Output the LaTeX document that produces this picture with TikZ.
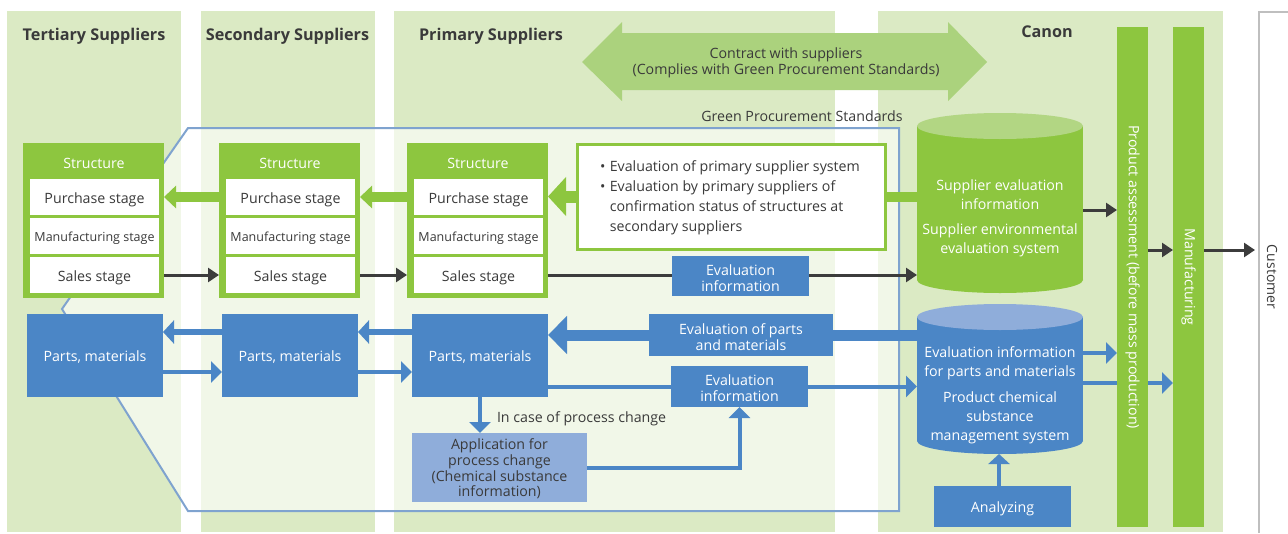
\documentclass[tikz,border=0pt]{standalone}
\usepackage{fontspec}
\setmainfont{Open Sans}
\usetikzlibrary{arrows.meta,calc}
\definecolor{bggreen}{HTML}{DBEAC4}
\definecolor{sgreen}{HTML}{8DC63F}
\definecolor{lgreen}{HTML}{ABD27D}
\definecolor{tgreen}{HTML}{B2D683}
\definecolor{sblue}{HTML}{4B86C6}
\definecolor{lblue}{HTML}{8FADDA}
\definecolor{pblue}{HTML}{7FA3CF}
\definecolor{dgray}{HTML}{3C3C3C}
\definecolor{tgray}{HTML}{3A3A3A}
\definecolor{cgray}{HTML}{BFBFBF}
\begin{document}
\begin{tikzpicture}[x=1pt,y=-1pt,
  every node/.style={inner sep=0pt,outer sep=0pt},
  body/.style={font=\fontsize{14.2}{16}\selectfont},
  coltitle/.style={font=\fontsize{16.2}{18}\selectfont\bfseries,text=tgray},
  structbox/.style={fill=sgreen,minimum width=141pt,minimum height=155pt},
  structlabel/.style={body,text=white},
  stagebox/.style={fill=white,minimum width=129pt,minimum height=36pt},
  stagetext/.style={body,text=tgray,yshift=-3pt},
  mfgtext/.style={text=tgray,yshift=-2.5pt,font=\fontsize{12.5}{14}\selectfont},
  partsbox/.style={fill=sblue,minimum width=136pt,minimum height=83pt},
  bluebox/.style={fill=sblue},
  boxtext/.style={body,text=white,align=center,yshift=-2pt},
  cyltext/.style={text=white,align=center,font=\fontsize{14.2}{19}\selectfont},
  bartext/.style={body,text=white,rotate=-90},
  plain/.style={body,text=tgray},
  darrow/.style={draw=dgray,line width=3pt,-{Triangle[length=11pt,width=14pt]}},
  garrow/.style={draw=sgreen,line width=10pt,-{Triangle[length=12pt,width=22pt]}},
  bigg/.style={draw=sgreen,line width=12pt,-{Triangle[length=18pt,width=38pt]}},
  barrow/.style={draw=sblue,line width=4pt,-{Triangle[length=11pt,width=21pt]}},
  barrowl/.style={draw=sblue,line width=6pt,-{Triangle[length=11pt,width=23pt]}},
  bigb/.style={draw=sblue,line width=11pt,-{Triangle[length=19pt,width=37pt]}},
  greenbar/.style={fill=sgreen,minimum width=31pt,minimum height=500pt}
]
\useasboundingbox (0,0) rectangle (1288,533);
% column backgrounds
\fill[bggreen] (7,11) rectangle (181,532);
\fill[bggreen] (201,11) rectangle (375,532);
\fill[bggreen] (394,11) rectangle (835,532);
\fill[bggreen] (878,11) rectangle (1223,532);
% customer frame
\draw[cgray,line width=1.2pt] (1259,533) -- (1259,12) -- (1288,12);
% green procurement standards region
\filldraw[fill=white,fill opacity=0.62,draw=pblue,line width=2pt]
  (188,128) -- (899,128) -- (899,511) -- (188,511) -- (62,309) -- cycle;
\node[plain] (gps) at (802,116) {Green Procurement Standards};

% titles
\node[coltitle] (tt) at (94,36.5) {Tertiary Suppliers};
\node[coltitle] (st) at (287.5,36.5) {Secondary Suppliers};
\node[coltitle] (pt) at (491,36.5) {Primary Suppliers};
\node[coltitle] (ct) at (1047,31.5) {Canon};

% contract double arrow
\fill[lgreen] (582,62) -- (622,22) -- (622,33) -- (948,33) -- (948,22) -- (987,62)
  -- (948,101) -- (948,90) -- (622,90) -- (622,101) -- cycle;
\node[plain,align=center] (contract) at (786,62.5)
  {Contract with suppliers\\(Complies with Green Procurement Standards)};

% structure boxes
\foreach \n/\cx in {t/93.5,s/289.5,p/477.5}{
  \node[structbox] (\n-struct) at (\cx,220.5) {};
  \node[structlabel] (\n-slabel) at (\cx+0.5,163.5) {Structure};
  \node[stagebox] (\n-purch) at (\cx+1,197) {};
  \node[stagetext] at (\n-purch) {Purchase stage};
  \node[stagebox] (\n-mfg) at (\cx+1,236) {};
  \node[mfgtext] at (\n-mfg) {Manufacturing stage};
  \node[stagebox] (\n-sales) at (\cx+1,275) {};
  \node[stagetext] at (\n-sales) {Sales stage};
}
% parts boxes
\node[partsbox] (t-parts) at (95,355.5) {};
\node[partsbox] (s-parts) at (290,355.5) {};
\node[partsbox] (p-parts) at (480,355.5) {};
\foreach \n in {t,s,p}{\node[boxtext] at (\n-parts) {Parts, materials};}

% cylinders anchors
\node[minimum width=166pt,minimum height=180pt] (gcyl) at (1000,203) {};
\node[minimum width=166pt,minimum height=150pt] (bcyl) at (1000,379) {};

% bars
\node[greenbar] (prodbar) at (1132.5,277) {};
\node[greenbar] (manbar) at (1188.5,277) {};

% evaluation text box
\node[draw=sgreen,line width=3pt,fill=white,minimum width=308pt,minimum height=105pt] (evalbox) at (731,196.5) {};
\node[anchor=west,text=tgray,font=\fontsize{14.2}{20}\selectfont] (evaltext) at (600,197)
  {\begin{tabular}{@{}l@{\hspace{4.5pt}}l@{}}
  • & Evaluation of primary supplier system\\
  • & Evaluation by primary suppliers of\\
    & confirmation status of structures at\\
    & secondary suppliers
  \end{tabular}};

% green arrows
\draw[garrow] (s-struct.west |- s-purch) -- (t-struct.east |- t-purch);
\draw[garrow] (p-struct.west |- p-purch) -- (s-struct.east |- s-purch);
\draw[bigg] (evalbox.west) -- (p-struct.east |- evalbox.west);
\draw[sgreen,line width=10pt] (evalbox.east) -- (gcyl.west |- evalbox.east);

% dark arrows on sales row
\draw[darrow] (t-struct.east |- t-sales) -- (s-struct.west |- s-sales);
\draw[darrow] (s-struct.east |- s-sales) -- (p-struct.west |- p-sales);
\draw[darrow] (p-struct.east |- p-sales) -- (gcyl.west |- p-sales);
\node[bluebox,minimum width=137pt,minimum height=40pt] (evinfo1) at (740.5,276) {};
\node[boxtext] at (evinfo1) {Evaluation\\information};

% blue arrows between parts
\coordinate (lvl) at (0,332);
\coordinate (lvr) at (0,372);
\draw[barrowl] (s-parts.west |- lvl) -- (t-parts.east |- lvl);
\draw[barrowl] (p-parts.west |- lvl) -- (s-parts.east |- lvl);
\draw[barrow] (t-parts.east |- lvr) -- (s-parts.west |- lvr);
\draw[barrow] (s-parts.east |- lvr) -- (p-parts.west |- lvr);

% evaluation of parts and materials
\node[minimum width=184pt,minimum height=42pt] (evparts) at (741,335) {};
\draw[bigb] (bcyl.west |- evparts) -- (p-parts.east |- evparts);
\node[bluebox,minimum width=184pt,minimum height=42pt] at (evparts) {};
\node[boxtext] at (evparts) {Evaluation of parts\\and materials};

% evaluation info 2
\node[minimum width=137pt,minimum height=41pt] (evinfo2) at (739.5,386.5) {};
\draw[barrow] (p-parts.east |- evinfo2) -- (bcyl.west |- evinfo2);
\node[bluebox,minimum width=137pt,minimum height=41pt] at (evinfo2) {};
\node[boxtext] at (evinfo2) {Evaluation\\information};

% application for process change
\node[fill=lblue,minimum width=175pt,minimum height=69pt] (app) at (499.5,467.5) {};
\node[text=tgray,align=center,yshift=-1.5pt,font=\fontsize{14.2}{15.7}\selectfont] at (app)
  {Application for\\process change\\(Chemical substance\\information)};
\draw[barrow] (p-parts.south) -- (p-parts.south |- app.north);
\node[plain,anchor=west] (pcl) at (497,419) {In case of process change};
\draw[barrow] (app.east) -| (evinfo2.south);

% blue arrows to bars (behind product bar)
\coordinate (lvb1) at (0,353);
\coordinate (lvb2) at (0,383);
\draw[barrow] (bcyl.east |- lvb2) -- (manbar.west |- lvb2);
\node[greenbar] at (prodbar) {};
\draw[barrow] (bcyl.east |- lvb1) -- (prodbar.west |- lvb1);

% green cylinder
\fill[sgreen] (917,126) rectangle (1083,280);
\fill[sgreen] (1000,280) ellipse [x radius=83pt,y radius=13pt];
\fill[tgreen] (1000,126) ellipse [x radius=83pt,y radius=13pt];
\node[cyltext] (gc1) at (1000,194.5) {Supplier evaluation\\information};
\node[cyltext] (gc2) at (1000,240) {Supplier environmental\\evaluation system};

% blue cylinder
\fill[sblue] (917,317) rectangle (1083,441);
\fill[sblue] (1000,441) ellipse [x radius=83pt,y radius=13pt];
\fill[lblue] (1000,317) ellipse [x radius=83pt,y radius=13pt];
\node[cyltext] (bc1) at (1000,363) {Evaluation information\\for parts and materials};
\node[cyltext] (bc2) at (1000,417.5) {Product chemical\\substance\\management system};

% analyzing
\node[bluebox,minimum width=137pt,minimum height=41pt] (anal) at (1002.5,506.5) {};
\node[boxtext] at (anal) {Analyzing};
\draw[draw=sblue,line width=4pt,-{Triangle[length=10pt,width=21pt]}] (anal.north -| 999,0) -- (bcyl.south -| 999,0);

% bar texts
\node[bartext] (pbt) at (prodbar) {Product assessment (before mass production)};
\node[bartext] (mbt) at (manbar) {Manufacturing};

% dark arrows to bars and customer
\coordinate (custin) at (1255,250);
\coordinate (lvg) at (0,210);
\draw[darrow] (gcyl.east |- lvg) -- (prodbar.west |- lvg);
\draw[darrow] (prodbar.east |- custin) -- (manbar.west |- custin);
\draw[darrow] (manbar.east |- custin) -- (custin);
\node[text=tgray,rotate=-90,font=\fontsize{14}{16}\selectfont] (cust) at (1272,277) {Customer};
\end{tikzpicture}
\end{document}
